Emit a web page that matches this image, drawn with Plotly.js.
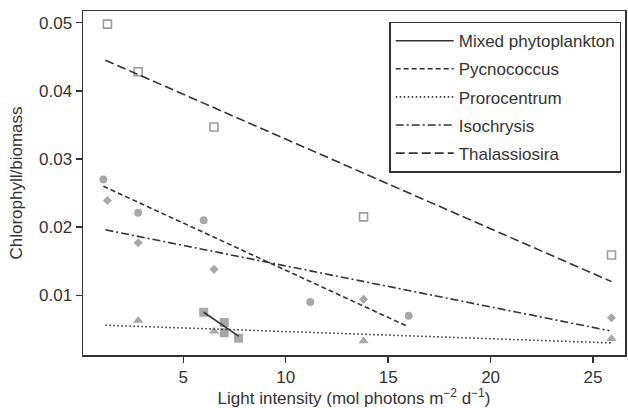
<!DOCTYPE html>
<html>
<head>
<meta charset="utf-8">
<script src="https://cdn.plot.ly/plotly-3.0.1.min.js"></script>
<style>html,body{margin:0;padding:0;background:#fff;}#chart{width:628px;height:408px;}</style>
</head>
<body>
<div id="chart"></div>
<script>
// Observed points
var mixedX = [6.0, 7.0, 7.0, 7.7];
var mixedY = [0.0075, 0.0060, 0.0045, 0.0037];
var pycnoX = [1.1, 2.8, 6.0, 11.2, 16.0];
var pycnoY = [0.0270, 0.0221, 0.0210, 0.0090, 0.0070];
var proroX = [2.8, 6.5, 13.8, 25.9];
var proroY = [0.0063, 0.0047, 0.0033, 0.0036];
var isoX = [1.3, 2.8, 6.5, 13.8, 25.9];
var isoY = [0.0239, 0.0177, 0.0138, 0.0094, 0.0067];
var thalX = [1.3, 2.8, 6.5, 13.8, 25.9];
var thalY = [0.0498, 0.0428, 0.0347, 0.0215, 0.0159];

// Fitted regression lines (end points)
var mixedFitX = [6.0, 7.7];
var mixedFitY = [0.0075, 0.0040];
var pycnoFitX = [1.1, 15.9];
var pycnoFitY = [0.0260, 0.0055];
var proroFitX = [1.2, 25.9];
var proroFitY = [0.0056, 0.0030];
var isoFitX = [1.2, 25.8];
var isoFitY = [0.0196, 0.0048];
var thalFitX = [1.2, 25.9];
var thalFitY = [0.0445, 0.0120];

var seriesNames = ["Mixed phytoplankton", "Pycnococcus", "Prorocentrum", "Isochrysis", "Thalassiosira"];
var xTicks = [5, 10, 15, 20, 25];
var yTicks = [0.01, 0.02, 0.03, 0.04, 0.05];

var grey = "#a8a8a8";
var lineCol = "#333333";
var font = "Liberation Sans, Arial, sans-serif";

function pts(x, y, sym, size, opts) {
  var m = {symbol: sym, size: size, color: grey, line: {width: 0}};
  if (opts) m = Object.assign(m, opts);
  return {x: x, y: y, type: "scatter", mode: "markers", marker: m, showlegend: false, hoverinfo: "skip"};
}
function fit(x, y, name, dash, i) {
  return {x: x, y: y, type: "scatter", mode: "lines", name: name, legendgroup: "g" + i,
          line: {color: lineCol, width: 1.6, dash: dash}};
}

var traces = [
  pts(thalX, thalY, "square-open", 8, {color: "#9c9c9c", line: {width: 1.6, color: "#9c9c9c"}}),
  pts(pycnoX, pycnoY, "circle", 8),
  pts(isoX, isoY, "diamond", 7),
  pts(proroX, proroY, "triangle-up", 9),
  pts(mixedX, mixedY, "square", 9),
  fit(mixedFitX, mixedFitY, seriesNames[0], "solid", 0),
  fit(pycnoFitX, pycnoFitY, seriesNames[1], "5px,3px", 1),
  fit(proroFitX, proroFitY, seriesNames[2], "1.5px,2.5px", 2),
  fit(isoFitX, isoFitY, seriesNames[3], "8px,3px,2px,3px", 3),
  fit(thalFitX, thalFitY, seriesNames[4], "9px,4px", 4)
];

var layout = {
  width: 628, height: 408,
  margin: {l: 83, r: 3, t: 11, b: 53},
  paper_bgcolor: "#fff", plot_bgcolor: "#fff",
  font: {family: font, size: 17, color: "#333"},
  showlegend: true,
  legend: {
    x: 0.565, y: 0.969, xanchor: "left", yanchor: "top",
    bordercolor: "#333", borderwidth: 1.5, bgcolor: "#fff",
    font: {family: font, size: 17, color: "#333"},
    traceorder: "grouped", tracegroupgap: 3, itemwidth: 58
  },
  xaxis: {
    range: [0.107, 26.56], tickvals: xTicks, ticktext: xTicks.map(String),
    showgrid: false, zeroline: false, showline: true, mirror: true,
    linecolor: "#333", linewidth: 1.5, ticks: "outside", ticklen: 6, tickwidth: 1.5, tickcolor: "#333",
    tickfont: {size: 17},
    title: {text: "Light intensity (mol photons m<sup>\u22122</sup> d<sup>\u22121</sup>)", font: {size: 17}, standoff: 4}
  },
  yaxis: {
    range: [0.00123, 0.05172], tickvals: yTicks, ticktext: yTicks.map(function(v){return v.toFixed(2);}),
    showgrid: false, zeroline: false, showline: true, mirror: true,
    linecolor: "#333", linewidth: 1.5, ticks: "outside", ticklen: 6, tickwidth: 1.5, tickcolor: "#333",
    tickfont: {size: 17},
    title: {text: "Chlorophyll/biomass", font: {size: 17}, standoff: 12}
  }
};

Plotly.newPlot("chart", traces, layout, {displayModeBar: false, staticPlot: true});
</script>
</body>
</html>
